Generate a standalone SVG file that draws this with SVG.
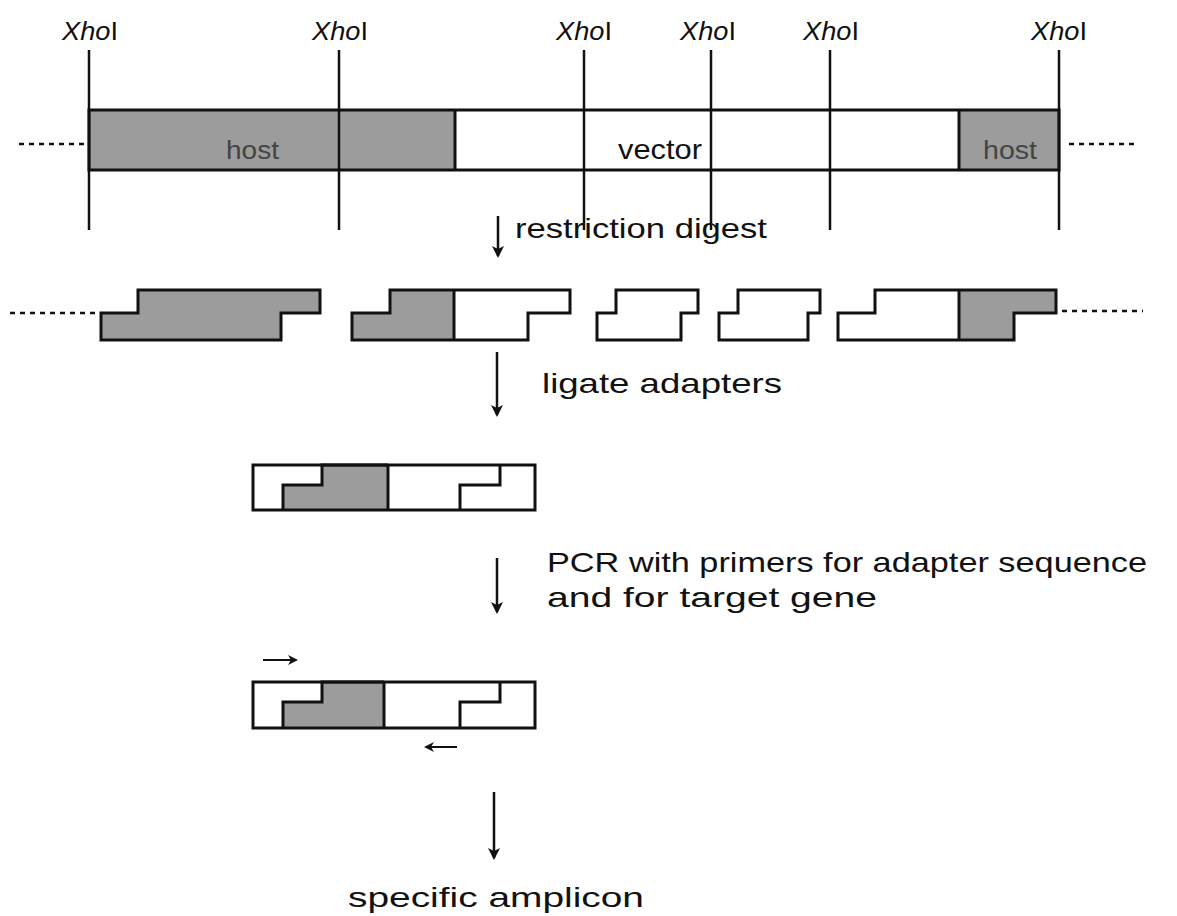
<svg xmlns="http://www.w3.org/2000/svg" width="1177" height="916" viewBox="0 0 1177 916">
<style>
.lbl{font-family:"Liberation Sans",Arial,sans-serif;font-size:28px;fill:#111}
.xho{font-family:"Liberation Sans",Arial,sans-serif;font-size:25px;fill:#111}
.cut{stroke:#111;stroke-width:2.5;fill:none}
.ol{stroke:#111;stroke-width:3;fill:none;stroke-linejoin:miter}
.gray{fill:#9c9c9c}
.dot{stroke:#111;stroke-width:2.5;stroke-dasharray:5 5;fill:none}
.arr{stroke:#111;stroke-width:2.5;fill:none;marker-end:url(#ah)}
.sarr{stroke:#111;stroke-width:2;fill:none;marker-end:url(#ahs)}
.hosttxt{font-family:"Liberation Sans",Arial,sans-serif;font-size:26px;fill:#444}
</style>
<defs>
<marker id="ah" markerWidth="12" markerHeight="12" refX="10" refY="6" orient="auto" markerUnits="userSpaceOnUse">
<path d="M0,0 L12,6 L0,12 L3,6 Z" fill="#111"/>
</marker>
<marker id="ahs" markerWidth="10" markerHeight="10" refX="8" refY="5" orient="auto" markerUnits="userSpaceOnUse">
<path d="M0,0 L10,5 L0,10 L3,5 Z" fill="#111"/>
</marker>
</defs>
<rect width="1177" height="916" fill="#fff"/>

<g id="construct">
<rect x="89" y="110" width="366" height="60" class="gray"/>
<rect x="959" y="110" width="100" height="60" class="gray"/>
<rect x="89" y="110" width="970" height="60" class="ol"/>
<line x1="455" y1="110" x2="455" y2="170" class="ol"/>
<line x1="959" y1="110" x2="959" y2="170" class="ol"/>
<line x1="19" y1="144" x2="86" y2="144" class="dot"/>
<line x1="1069" y1="144" x2="1138" y2="144" class="dot"/>
<text x="226" y="159" class="hosttxt" textLength="53" lengthAdjust="spacingAndGlyphs">host</text>
<text x="618" y="159" class="lbl" font-size="26" textLength="84" lengthAdjust="spacingAndGlyphs">vector</text>
<text x="983" y="159" class="hosttxt" textLength="54" lengthAdjust="spacingAndGlyphs">host</text>
</g>

<g id="xhoi-sites">
<line x1="89" y1="50" x2="89" y2="230" class="cut"/>
<line x1="339" y1="50" x2="339" y2="230" class="cut"/>
<line x1="584" y1="50" x2="584" y2="230" class="cut"/>
<line x1="711" y1="50" x2="711" y2="230" class="cut"/>
<line x1="830" y1="50" x2="830" y2="230" class="cut"/>
<line x1="1059" y1="50" x2="1059" y2="230" class="cut"/>
<text x="62" y="40" class="xho" textLength="56" lengthAdjust="spacingAndGlyphs"><tspan font-style="italic">Xho</tspan>I</text>
<text x="312" y="40" class="xho" textLength="56" lengthAdjust="spacingAndGlyphs"><tspan font-style="italic">Xho</tspan>I</text>
<text x="556" y="40" class="xho" textLength="56" lengthAdjust="spacingAndGlyphs"><tspan font-style="italic">Xho</tspan>I</text>
<text x="680" y="40" class="xho" textLength="56" lengthAdjust="spacingAndGlyphs"><tspan font-style="italic">Xho</tspan>I</text>
<text x="803" y="40" class="xho" textLength="56" lengthAdjust="spacingAndGlyphs"><tspan font-style="italic">Xho</tspan>I</text>
<text x="1031" y="40" class="xho" textLength="56" lengthAdjust="spacingAndGlyphs"><tspan font-style="italic">Xho</tspan>I</text>
</g>

<g id="fragments">
<line x1="10" y1="313" x2="96" y2="313" class="dot"/>
<polygon points="101,313 138,313 138,290 320,290 320,313 281,313 281,340 101,340" class="gray"/>
<polygon points="101,313 138,313 138,290 320,290 320,313 281,313 281,340 101,340" class="ol"/>
<polygon points="352,313 390,313 390,290 454,290 454,340 352,340" class="gray"/>
<polygon points="352,313 390,313 390,290 570,290 570,313 528,313 528,340 352,340" class="ol"/>
<line x1="454" y1="290" x2="454" y2="340" class="ol"/>
<polygon points="597,313 616,313 616,290 698,290 698,313 681,313 681,340 597,340" class="ol"/>
<polygon points="719,313 738,313 738,290 820,290 820,313 808,313 808,340 719,340" class="ol"/>
<polygon points="959,290 1056,290 1056,313 1014,313 1014,340 959,340" class="gray"/>
<polygon points="838,313 875,313 875,290 1056,290 1056,313 1014,313 1014,340 838,340" class="ol"/>
<line x1="959" y1="290" x2="959" y2="340" class="ol"/>
<line x1="1062" y1="311" x2="1143" y2="311" class="dot"/>
</g>

<g id="ligated">
<polygon points="283,485 322,485 322,465 388,465 388,510 283,510" class="gray"/>
<polyline points="388,465 322,465 322,485 283,485 283,510" class="ol"/>
<polyline points="500,465 500,485 460,485 460,510" class="ol"/>
<line x1="388" y1="465" x2="388" y2="510" class="ol"/>
<rect x="253" y="465" width="282" height="45" class="ol"/>
</g>

<g id="amplified">
<polygon points="283,702 322,702 322,682 384,682 384,728 283,728" class="gray"/>
<polyline points="384,682 322,682 322,702 283,702 283,728" class="ol"/>
<polyline points="500,682 500,702 460,702 460,728" class="ol"/>
<line x1="384" y1="682" x2="384" y2="728" class="ol"/>
<rect x="253" y="682" width="282" height="46" class="ol"/>
</g>

<g id="connectors">
<line x1="498" y1="216" x2="498" y2="256" class="arr"/>
<line x1="497" y1="352" x2="497" y2="415" class="arr"/>
<line x1="497" y1="558" x2="497" y2="612" class="arr"/>
<line x1="494" y1="792" x2="494" y2="858" class="arr"/>
<line x1="263" y1="660" x2="296" y2="660" class="sarr"/>
<line x1="457" y1="747" x2="426" y2="747" class="sarr"/>
</g>

<g id="labels">
<text x="515" y="238" class="lbl" textLength="252" lengthAdjust="spacingAndGlyphs">restriction digest</text>
<text x="542" y="393" class="lbl" textLength="240" lengthAdjust="spacingAndGlyphs">ligate adapters</text>
<text x="547" y="572" class="lbl" textLength="600" lengthAdjust="spacingAndGlyphs">PCR with primers for adapter sequence</text>
<text x="547" y="607" class="lbl" textLength="330" lengthAdjust="spacingAndGlyphs">and for target gene</text>
<text x="348" y="907" class="lbl" textLength="296" lengthAdjust="spacingAndGlyphs">specific amplicon</text>
</g>
</svg>
